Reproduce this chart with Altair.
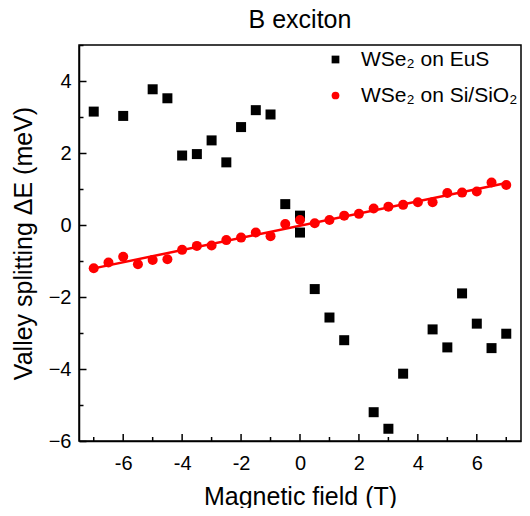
import altair as alt
import pandas as pd

# WSe2 on EuS (black squares)
eus_field = [-7, -6, -5, -4.5, -4, -3.5, -3, -2.5, -2, -1.5, -1, -0.5, 0, 0,
             0.5, 1, 1.5, 2.5, 3, 3.5, 4.5, 5, 5.5, 6, 6.5, 7]
eus_split = [3.15, 3.03, 3.77, 3.52, 1.93, 1.97, 2.35, 1.74, 2.72, 3.19, 3.07, 0.58, 0.26, -0.21,
             -1.78, -2.57, -3.20, -5.20, -5.66, -4.13, -2.90, -3.40, -1.90, -2.74, -3.42, -3.02]

# WSe2 on Si/SiO2 (red circles)
sio_field = [-7, -6.5, -6, -5.5, -5, -4.5, -4, -3.5, -3, -2.5, -2, -1.5, -1, -0.5, 0,
             0.5, 1, 1.5, 2, 2.5, 3, 3.5, 4, 4.5, 5, 5.5, 6, 6.5, 7]
sio_split = [-1.20, -1.04, -0.88, -1.09, -0.97, -0.95, -0.69, -0.58, -0.57, -0.42, -0.35, -0.21, -0.31,
             0.03, 0.14, 0.05, 0.14, 0.26, 0.31, 0.46, 0.51, 0.56, 0.63, 0.63, 0.89, 0.90, 0.93, 1.18, 1.11]

series_names = ["WSe\u2082 on EuS", "WSe\u2082 on Si/SiO\u2082"]
series_colors = ["black", "red"]
series_shapes = ["square", "circle"]

x_major = [-6, -4, -2, 0, 2, 4, 6]
x_minor = [-7, -5, -3, -1, 1, 3, 5, 7]
y_ticks = [-6, -5, -4, -3, -2, -1, 0, 1, 2, 3, 4, 5]

df = pd.concat([
    pd.DataFrame({"B": eus_field, "dE": eus_split, "series": series_names[0]}),
    pd.DataFrame({"B": sio_field, "dE": sio_split, "series": series_names[1]}),
], ignore_index=True)

FONT = "Liberation Sans"
tick_expr = "datum.value % 2 === 0 ? -7 : -4"
PLOT_W, PLOT_H = 442, 396

x_enc = alt.X("B:Q", scale=alt.Scale(domain=[-7.5, 7.5], nice=False, zero=False),
              axis=alt.Axis(values=x_major, ticks=False, labelPadding=12, labelOverlap=False,
                            labelFlush=False, labelExpr="replace(datum.label, '\u2212', '-')",
                            title="Magnetic field (T)", titlePadding=11))
y_enc = alt.Y("dE:Q", scale=alt.Scale(domain=[-6, 5], nice=False, zero=False),
              axis=alt.Axis(values=y_ticks, labelExpr="datum.value % 2 === 0 ? datum.label : ''",
                            tickSize={"expr": tick_expr}, labelPadding=15, labelOverlap=False,
                            title="Valley splitting \u0394E (meV)", titlePadding=12))

leg = alt.Legend(title=None, orient="none", legendX=246, legendY=4,
                 labelFontSize=21, labelFont=FONT, labelColor="black", labelLimit=0,
                 symbolSize=60, labelOffset=15, rowPadding=14, padding=0,
                 symbolStrokeWidth=0)

points = alt.Chart(df).mark_point(filled=True, size=100, opacity=1).encode(
    x=x_enc,
    y=y_enc,
    color=alt.Color("series:N", scale=alt.Scale(domain=series_names, range=series_colors), legend=leg),
    shape=alt.Shape("series:N", scale=alt.Scale(domain=series_names, range=series_shapes), legend=leg),
)

fit = alt.Chart(df).transform_filter(
    alt.datum.series == series_names[1]
).transform_regression("B", "dE", extent=[-7, 7]).mark_line(color="red", strokeWidth=2.5).encode(
    x=x_enc, y=y_enc
)

# inward x-axis ticks (major longer than minor)
major_ticks = alt.Chart(pd.DataFrame({"B": x_major})).mark_rule(color="black", strokeWidth=1.5).encode(
    x=x_enc, y=alt.value(PLOT_H), y2=alt.value(PLOT_H - 7)
)
minor_ticks = alt.Chart(pd.DataFrame({"B": x_minor})).mark_rule(color="black", strokeWidth=1.5).encode(
    x=x_enc, y=alt.value(PLOT_H), y2=alt.value(PLOT_H - 4)
)

chart = alt.layer(major_ticks, minor_ticks, fit, points).properties(
    width=PLOT_W, height=PLOT_H,
    background="white",
    title=alt.TitleParams("B exciton", fontSize=25, font=FONT, fontWeight="normal",
                          anchor="middle", offset=10, dy=8, color="black"),
    autosize=alt.AutoSizeParams(type="none"),
    padding={"left": 71, "top": 37, "right": 1, "bottom": 67},
).configure_view(
    stroke="black", strokeWidth=1.5
).configure_axis(
    grid=False, domainColor="black", domainWidth=1.5, tickColor="black", tickWidth=1.5,
    labelFont=FONT, labelFontSize=20, labelColor="black",
    titleFont=FONT, titleFontSize=25, titleFontWeight="normal", titleColor="black",
)

chart.save("out.html", embed_options={"renderer": "svg", "actions": False})
